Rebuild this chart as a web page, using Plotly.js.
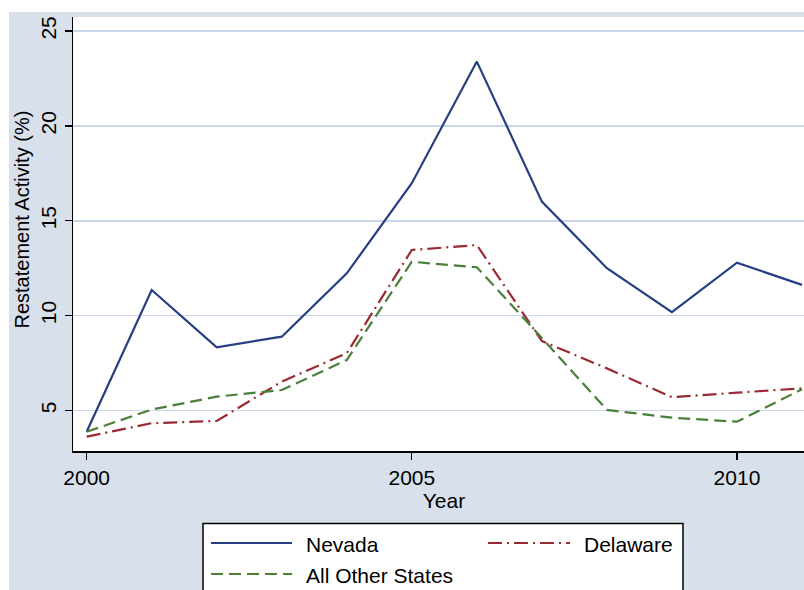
<!DOCTYPE html>
<html>
<head>
<meta charset="utf-8">
<script src="https://cdn.plot.ly/plotly-3.0.1.min.js"></script>
<style>
  html, body { margin: 0; padding: 0; background: #ffffff; overflow: hidden; width: 804px; height: 590px; }
  #chart { position: absolute; left: 9px; top: 12px; width: 820px; height: 578px; }
</style>
</head>
<body>
<div id="chart"></div>
<script>
// ---- data ----
const years = [2000, 2001, 2002, 2003, 2004, 2005, 2006, 2007, 2008, 2009, 2010, 2011];
const nevada = [3.88, 11.35, 8.33, 8.89, 12.23, 16.98, 23.39, 16.01, 12.5, 10.18, 12.79, 11.62];
const delaware = [3.62, 4.33, 4.45, 6.52, 8.02, 13.46, 13.72, 8.66, 7.22, 5.70, 5.94, 6.17];
const otherStates = [3.88, 5.05, 5.73, 6.08, 7.66, 12.84, 12.55, 8.82, 5.03, 4.62, 4.41, 6.12];
const seriesNames = ["Nevada", "Delaware", "All Other States"];
const xTickVals = [2000, 2005, 2010];
const yTickVals = [5, 10, 15, 20, 25];
const xTitle = "Year";
const yTitle = "Restatement Activity (%)";

// ---- styles ----
const FONT = "Liberation Sans, Arial, sans-serif";
const colNevada = "#283e82";
const colDelaware = "#992a33";
const colOther = "#4b7f3a";
const dashDelaware = "14px,5px,2px,5px";
const dashOther = "12px,6px";

const traces = [
  { x: years, y: nevada, name: seriesNames[0], type: "scatter", mode: "lines",
    line: { color: colNevada, width: 2.2 } },
  { x: years, y: delaware, name: seriesNames[1], type: "scatter", mode: "lines",
    line: { color: colDelaware, width: 2.2, dash: dashDelaware } },
  { x: years, y: otherStates, name: seriesNames[2], type: "scatter", mode: "lines",
    line: { color: colOther, width: 2.2, dash: dashOther } }
];

// page-pixel helpers for the legend box (plot area: x 73..815, y 17..451 in page px)
const PL = 73, PR = 815, PT = 17, PB = 451;
const px = X => (X - PL) / (PR - PL);
const py = Y => (PB - Y) / (PB - PT);

const shapes = [
  { type: "rect", xref: "paper", yref: "paper", x0: px(203), x1: px(683), y0: py(610), y1: py(523.5),
    fillcolor: "#ffffff", line: { color: "#000000", width: 1.5 } },
  { type: "line", xref: "paper", yref: "paper", x0: px(211), x1: px(292), y0: py(543), y1: py(543),
    line: { color: colNevada, width: 2.2 } },
  { type: "line", xref: "paper", yref: "paper", x0: px(488), x1: px(570), y0: py(543), y1: py(543),
    line: { color: colDelaware, width: 2.2, dash: dashDelaware } },
  { type: "line", xref: "paper", yref: "paper", x0: px(211), x1: px(292), y0: py(574), y1: py(574),
    line: { color: colOther, width: 2.2, dash: dashOther } }
];

const annotations = [
  { text: seriesNames[0], xref: "paper", yref: "paper", x: px(304), y: py(544), xanchor: "left", yanchor: "middle",
    showarrow: false, font: { family: FONT, size: 21, color: "#000" } },
  { text: seriesNames[1], xref: "paper", yref: "paper", x: px(582), y: py(544), xanchor: "left", yanchor: "middle",
    showarrow: false, font: { family: FONT, size: 21, color: "#000" } },
  { text: seriesNames[2], xref: "paper", yref: "paper", x: px(304), y: py(575), xanchor: "left", yanchor: "middle",
    showarrow: false, font: { family: FONT, size: 21, color: "#000" } },
  { text: yTitle, xref: "paper", yref: "paper", x: px(22), y: py(219.5), xanchor: "center", yanchor: "middle",
    textangle: -90, showarrow: false, font: { family: FONT, size: 20, color: "#000" } }
];

const layout = {
  width: 820, height: 578,
  margin: { l: 64, r: 14, t: 5, b: 139, pad: 0 },
  paper_bgcolor: "#d7e0eb",
  plot_bgcolor: "#ffffff",
  showlegend: false,
  font: { family: FONT, color: "#000" },
  xaxis: {
    range: [1999.79, 2011.2],
    tickmode: "array", tickvals: xTickVals, ticktext: xTickVals.map(String),
    ticks: "outside", ticklen: 7, tickwidth: 1.3, tickcolor: "#000",
    showline: true, linecolor: "#000", linewidth: 1.5,
    showgrid: false, zeroline: false,
    tickfont: { family: FONT, size: 21, color: "#000" },
    title: { text: xTitle, font: { family: FONT, size: 21, color: "#000" }, standoff: 0 },
    automargin: false
  },
  yaxis: {
    range: [2.865, 25.74],
    tickmode: "array", tickvals: yTickVals, ticktext: yTickVals.map(String),
    tickangle: -90,
    ticks: "outside", ticklen: 7, tickwidth: 1.3, tickcolor: "#000",
    showline: true, linecolor: "#000", linewidth: 1.5,
    showgrid: true, gridcolor: "#cad6ea", gridwidth: 1.6, zeroline: false,
    tickfont: { family: FONT, size: 21, color: "#000" },
    automargin: false
  },
  shapes: shapes,
  annotations: annotations
};

Plotly.newPlot("chart", traces, layout, { staticPlot: true, displayModeBar: false });
</script>
</body>
</html>
